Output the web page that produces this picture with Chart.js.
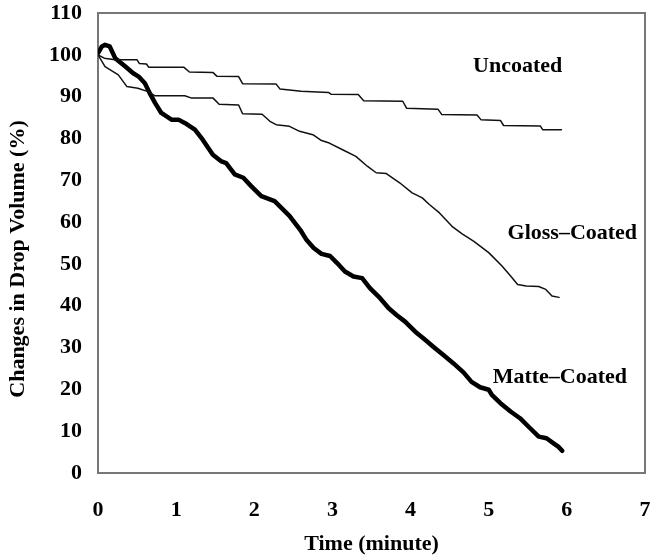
<!DOCTYPE html>
<html>
<head>
<meta charset="utf-8">
<title>Drop volume over time</title>
<script src="https://cdn.jsdelivr.net/npm/chart.js@4.4.1/dist/chart.umd.min.js"></script>
<style>
  html, body { margin: 0; padding: 0; background: #fff; }
  #wrap { width: 653px; height: 559px; position: relative; }
</style>
</head>
<body>
<div id="wrap"><canvas id="dropChart"></canvas></div>
<script>
// time in minutes, drop volume as % of the initial volume
const uncoatedTime = [0, 0.08, 0.22, 0.5, 0.53, 0.62, 0.65, 1.1, 1.17, 1.47, 1.52, 1.8, 1.85, 2.28, 2.33, 2.6, 2.95, 2.98, 3.33, 3.4, 3.9, 3.95, 4.35, 4.4, 4.85, 4.9, 5.15, 5.19, 5.66, 5.69, 5.93];
const uncoatedVolume = [100, 99.2, 98.8, 98.8, 97.9, 97.8, 97.0, 97.0, 95.9, 95.8, 94.9, 94.8, 93.1, 93.0, 91.8, 91.3, 91.0, 90.6, 90.5, 89.0, 88.9, 87.2, 87.0, 85.7, 85.6, 84.5, 84.3, 83.1, 83.0, 82.1, 82.1];

const glossTime = [0, 0.09, 0.26, 0.37, 0.51, 0.64, 0.73, 1.11, 1.19, 1.47, 1.55, 1.8, 1.85, 2.1, 2.2, 2.28, 2.45, 2.58, 2.75, 2.86, 2.96, 3.13, 3.3, 3.45, 3.56, 3.69, 3.86, 4.02, 4.15, 4.24, 4.37, 4.53, 4.66, 4.81, 5.0, 5.17, 5.28, 5.37, 5.48, 5.64, 5.73, 5.81, 5.9];
const glossVolume = [100, 97.2, 95.2, 92.4, 92.0, 91.2, 90.2, 90.2, 89.7, 89.7, 88.2, 88.0, 85.9, 85.8, 84.1, 83.3, 82.9, 81.7, 80.9, 79.5, 78.9, 77.3, 75.7, 73.3, 71.8, 71.6, 69.4, 67.0, 65.8, 64.2, 62.2, 59.0, 57.2, 55.4, 52.7, 49.5, 47.1, 45.1, 44.7, 44.6, 43.9, 42.3, 42.0];

const matteTime = [0, 0.05, 0.09, 0.15, 0.22, 0.35, 0.45, 0.52, 0.6, 0.66, 0.73, 0.81, 0.94, 1.03, 1.11, 1.24, 1.34, 1.47, 1.58, 1.64, 1.75, 1.86, 1.96, 2.09, 2.26, 2.45, 2.59, 2.67, 2.76, 2.86, 2.97, 3.06, 3.16, 3.27, 3.38, 3.48, 3.61, 3.72, 3.82, 3.93, 4.06, 4.19, 4.29, 4.42, 4.55, 4.68, 4.78, 4.89, 5.0, 5.04, 5.15, 5.28, 5.4, 5.53, 5.64, 5.74, 5.83, 5.89, 5.94];
const matteVolume = [100.4, 102.0, 102.4, 102.0, 99.2, 97.2, 95.6, 94.8, 93.2, 90.9, 88.5, 86.1, 84.5, 84.5, 83.7, 82.1, 79.7, 76.1, 74.5, 74.1, 71.4, 70.6, 68.6, 66.2, 65.0, 61.5, 58.1, 55.7, 53.8, 52.4, 51.9, 50.2, 48.2, 47.0, 46.6, 44.2, 41.8, 39.4, 37.8, 36.2, 33.8, 31.8, 30.2, 28.2, 26.2, 24.0, 21.8, 20.5, 19.9, 18.7, 16.7, 14.7, 13.1, 10.7, 8.7, 8.3, 7.1, 6.3, 5.3];

// curve names and where they sit on the plot (x in minutes, y in %)
const seriesNames = ["Uncoated", "Gloss\u2013Coated", "Matte\u2013Coated"];
const nameAtTime = [5.37, 6.07, 5.91];
const nameAtVolume = [97.2, 57.3, 23.0];

const xTitle = "Time (minute)";
const yTitle = "Changes in Drop Volume (%)";

const serif = "'Liberation Serif', 'Times New Roman', serif";

function toPoints(xs, ys) {
  return xs.map((x, i) => ({ x: x, y: ys[i] }));
}

// frame around the plot, curve names, rotated y title
const decorations = {
  id: "decorations",
  beforeDatasetsDraw(chart) {
    const { ctx, chartArea: a } = chart;
    ctx.save();
    ctx.strokeStyle = "#777";
    ctx.lineWidth = 2;
    ctx.strokeRect(a.left, a.top, a.right - a.left, a.bottom - a.top);
    ctx.restore();
  },
  afterDatasetsDraw(chart) {
    const { ctx, scales } = chart;
    ctx.save();
    ctx.fillStyle = "#000";
    ctx.font = "bold 22px " + serif;
    ctx.textAlign = "center";
    ctx.textBaseline = "middle";
    seriesNames.forEach((name, i) => {
      ctx.fillText(name, scales.x.getPixelForValue(nameAtTime[i]), scales.y.getPixelForValue(nameAtVolume[i]));
    });
    ctx.translate(18, 259);
    ctx.rotate(-Math.PI / 2);
    ctx.fillText(yTitle, 0, 0);
    ctx.restore();
  }
};

new Chart(document.getElementById("dropChart"), {
  type: "line",
  data: {
    datasets: [
      {
        label: seriesNames[0],
        data: toPoints(uncoatedTime, uncoatedVolume),
        borderColor: "#111",
        borderWidth: 1.5
      },
      {
        label: seriesNames[1],
        data: toPoints(glossTime, glossVolume),
        borderColor: "#111",
        borderWidth: 1.5
      },
      {
        label: seriesNames[2],
        data: toPoints(matteTime, matteVolume),
        borderColor: "#000",
        borderWidth: 4.5
      }
    ]
  },
  options: {
    responsive: true,
    maintainAspectRatio: false,
    animation: false,
    layout: { padding: { top: 13, right: 8, left: 0, bottom: 0 } },
    elements: {
      point: { radius: 0 },
      line: { tension: 0, borderJoinStyle: "round", borderCapStyle: "round" }
    },
    plugins: {
      legend: { display: false },
      tooltip: { enabled: false }
    },
    scales: {
      x: {
        type: "linear",
        min: 0,
        max: 7,
        grid: { display: false, drawTicks: false },
        border: { display: false },
        ticks: {
          stepSize: 1,
          padding: 24,
          color: "#000",
          font: { family: serif, size: 22, weight: "bold" }
        },
        title: {
          display: true,
          text: xTitle,
          color: "#000",
          padding: { top: 0, bottom: 1 },
          font: { family: serif, size: 22, weight: "bold" }
        },
        afterFit(scale) {
          scale.height = 86;
          scale.paddingLeft = 0;
          scale.paddingRight = 0;
        }
      },
      y: {
        min: 0,
        max: 110,
        grid: { display: false, drawTicks: false },
        border: { display: false },
        ticks: {
          stepSize: 10,
          padding: 16,
          color: "#000",
          font: { family: serif, size: 22, weight: "bold" }
        },
        afterFit(scale) {
          scale.width = 98;
          scale.paddingTop = 0;
          scale.paddingBottom = 0;
        }
      }
    }
  },
  plugins: [decorations]
});
</script>
</body>
</html>
